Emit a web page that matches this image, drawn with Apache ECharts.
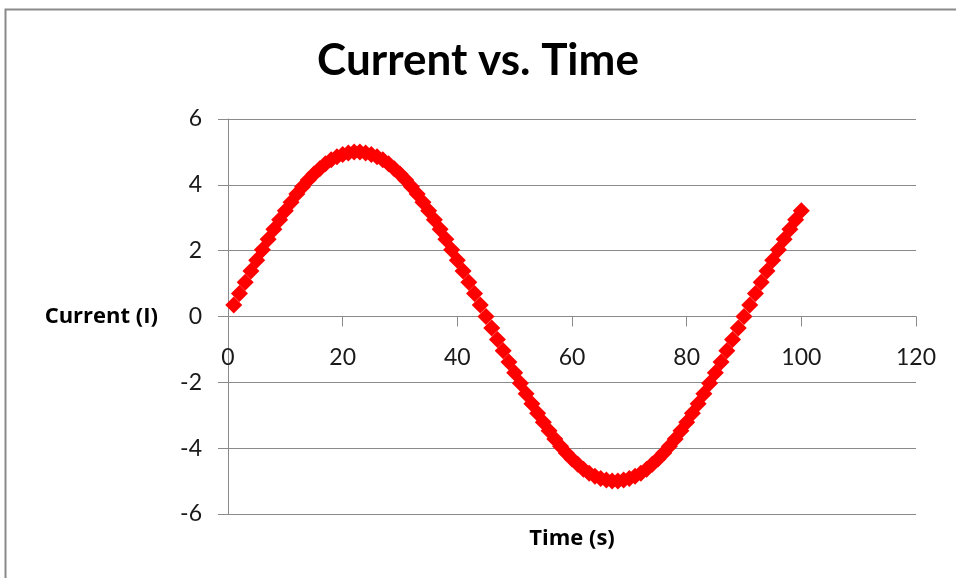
<!DOCTYPE html>
<html>
<head>
<meta charset="utf-8">
<script src="https://cdn.jsdelivr.net/npm/echarts@6/dist/echarts.min.js"></script>
<style>html,body{margin:0;padding:0;background:#fff}#c{width:956px;height:578px}</style>
</head>
<body>
<div id="c"></div>
<script>
const timeSeconds = [1,2,3,4,5,6,7,8,9,10,11,12,13,14,15,16,17,18,19,20,21,22,23,24,25,26,27,28,29,30,31,32,33,34,35,36,37,38,39,40,41,42,43,44,45,46,47,48,49,50,51,52,53,54,55,56,57,58,59,60,61,62,63,64,65,66,67,68,69,70,71,72,73,74,75,76,77,78,79,80,81,82,83,84,85,86,87,88,89,90,91,92,93,94,95,96,97,98,99,100];
const currentValues = [0.35,0.70,1.04,1.38,1.71,2.03,2.35,2.65,2.94,3.21,3.47,3.72,3.94,4.15,4.33,4.49,4.64,4.76,4.85,4.92,4.97,5.00,5.00,4.97,4.92,4.85,4.76,4.64,4.49,4.33,4.15,3.94,3.72,3.47,3.21,2.94,2.65,2.35,2.03,1.71,1.38,1.04,0.70,0.35,0.00,-0.35,-0.70,-1.04,-1.38,-1.71,-2.03,-2.35,-2.65,-2.94,-3.21,-3.47,-3.72,-3.94,-4.15,-4.33,-4.49,-4.64,-4.76,-4.85,-4.92,-4.97,-5.00,-5.00,-4.97,-4.92,-4.85,-4.76,-4.64,-4.49,-4.33,-4.15,-3.94,-3.72,-3.47,-3.21,-2.94,-2.65,-2.35,-2.03,-1.71,-1.38,-1.04,-0.70,-0.35,0.00,0.35,0.70,1.04,1.38,1.71,2.03,2.35,2.65,2.94,3.21];
const chartTitle = "Current vs. Time";
const xAxisTitle = "Time (s)";
const yAxisTitle = "Current (I)";

const points = timeSeconds.map((t, i) => [t, currentValues[i]]);
const chart = echarts.init(document.getElementById('c'), null, {renderer: 'canvas'});
const FONT = 'Lato, "Open Sans", sans-serif';
const NAMEFONT = '"Open Sans", Lato, sans-serif';
chart.setOption({
  animation: false,
  backgroundColor: '#fff',
  title: {
    text: chartTitle, left: 'center', top: 34,
    textStyle: {fontFamily: FONT, fontWeight: 'bold', fontSize: 44, color: '#000'}
  },
  graphic: [{
    type: 'rect', left: 3, top: 7, shape: {width: 1000, height: 700},
    style: {fill: 'none', stroke: '#8a8a8a', lineWidth: 2}, silent: true, z: -1
  }],
  grid: {left: 228, right: 40, top: 119, bottom: 64, containLabel: false, outerBoundsMode: 'none'},
  xAxis: {
    type: 'value', min: 0, max: 120, interval: 20,
    position: 'bottom', offset: -197.5,
    name: xAxisTitle, nameLocation: 'middle', nameGap: 211,
    nameTextStyle: {fontFamily: NAMEFONT, fontWeight: 'bold', fontSize: 22, color: '#000'},
    axisLine: {show: true, onZero: false, lineStyle: {color: '#8a8a8a', width: 1}},
    axisTick: {show: true, length: 10, lineStyle: {color: '#8a8a8a'}},
    axisLabel: {margin: 30, fontFamily: FONT, fontSize: 23, color: '#1a1a1a'},
    splitLine: {show: false}
  },
  yAxis: {
    type: 'value', min: -6, max: 6, interval: 2,
    name: yAxisTitle, nameLocation: 'middle', nameRotate: 0, nameGap: 70,
    nameTextStyle: {fontFamily: NAMEFONT, fontWeight: 'bold', fontSize: 22, color: '#000', align: 'right'},
    axisLine: {show: true, onZero: false, lineStyle: {color: '#8a8a8a', width: 1}},
    axisTick: {show: true, length: 10, lineStyle: {color: '#8a8a8a'}},
    axisLabel: {margin: 26, fontFamily: FONT, fontSize: 23, color: '#1a1a1a'},
    splitLine: {show: true, lineStyle: {color: '#8a8a8a', width: 1}}
  },
  series: [{
    type: 'scatter', data: points, symbol: 'diamond', symbolSize: 17,
    itemStyle: {color: '#ff0000', opacity: 1}
  }]
});
</script>
</body>
</html>
